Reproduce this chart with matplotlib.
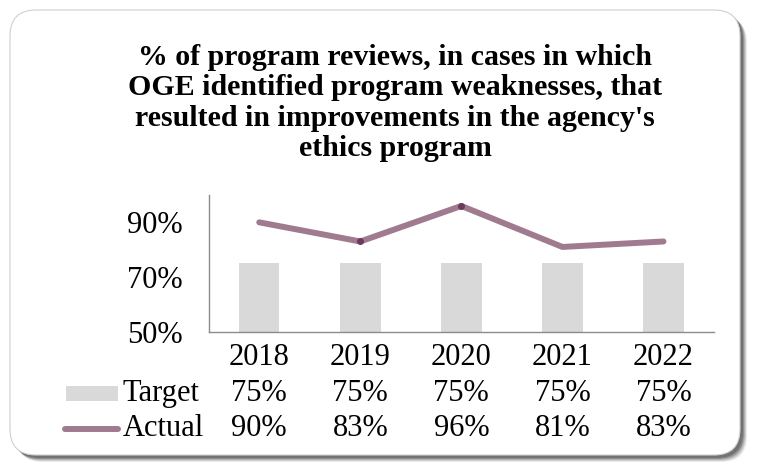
import numpy as np
import matplotlib
matplotlib.use("Agg")
import matplotlib.pyplot as plt
from matplotlib.patches import FancyBboxPatch, Rectangle
from matplotlib.lines import Line2D

years = ["2018", "2019", "2020", "2021", "2022"]
target = [75, 75, 75, 75, 75]
actual = [90, 83, 96, 81, 83]
title = ("% of program reviews, in cases in which\n"
         "OGE identified program weaknesses, that\n"
         "resulted in improvements in the agency's\n"
         "ethics program")

plt.rcParams["font.family"] = ["Liberation Serif", "DejaVu Serif"]

bar_col = "#d9d9d9"
line_col = "#a07b8f"
dot_col = "#6e3a5c"
fs = 22

W, H = 757, 470
fig = plt.figure(figsize=(W / 100, H / 100), dpi=100)

# background frame in pixel units
bg = fig.add_axes([0, 0, 1, 1])
bg.set_xlim(0, W)
bg.set_ylim(H, 0)
bg.axis("off")
for k, a in zip(range(5, 0, -1), [0.12, 0.18, 0.25, 0.35, 0.5]):
    bg.add_patch(FancyBboxPatch((12 + k, 12 + k), 730, 445,
                                boxstyle="round,pad=0,rounding_size=26",
                                fc="#555555", ec="none", alpha=a))
bg.add_patch(FancyBboxPatch((10, 10), 730, 445,
                            boxstyle="round,pad=0,rounding_size=26",
                            fc="white", ec="#d0d0d0", lw=0.8))

bg.text(395, 103, title, ha="center", va="center", fontsize=21.5,
        fontweight="bold", linespacing=1.15)

ax = fig.add_axes([208.7 / W, 1 - 331.7 / H, 505.3 / W, 136.7 / H])
ax.patch.set_alpha(0)
x = np.arange(len(years))
ax.bar(x, target, width=0.4, color=bar_col, zorder=1)
ax.plot(x, actual, color=line_col, lw=4.3, solid_capstyle="round",
        solid_joinstyle="round", zorder=2)
ax.plot(x[1:3], np.array(actual)[1:3], ls="none", marker="o", ms=4,
        color=dot_col, zorder=3)
ax.set_xlim(-0.5, len(years) - 0.5)
ax.set_ylim(50, 100)
ax.set_yticks([50, 70, 90])
ax.set_yticklabels(["50%", "70%", "90%"], fontsize=fs)
ax.tick_params(axis="y", length=0, pad=19)
ax.set_xticks(x)
ax.set_xticklabels(years, fontsize=fs)
ax.tick_params(axis="x", length=0, pad=8)
for s in ["top", "right"]:
    ax.spines[s].set_visible(False)
for s in ["left", "bottom"]:
    ax.spines[s].set_color("#8c8c8c")
    ax.spines[s].set_linewidth(1.0)

# data table rows
rows = [("Target", target, -62), ("Actual", actual, -97)]
for name, vals, off in rows:
    for i, v in enumerate(vals):
        ax.annotate(f"{v}%", xy=(i, 0), xycoords=("data", "axes fraction"),
                    xytext=(0, off), textcoords="offset pixels",
                    ha="center", va="center", fontsize=fs, annotation_clip=False)
    ax.annotate(name, xy=(-0.5, 0), xycoords=("data", "axes fraction"),
                xytext=(-86, off), textcoords="offset pixels",
                ha="left", va="center", fontsize=fs, annotation_clip=False)

# legend keys in the table
bg.add_patch(Rectangle((66, 386), 52, 15, fc=bar_col, ec="none"))
bg.add_line(Line2D([65, 118], [429, 429], color=line_col, lw=4.3,
                   solid_capstyle="round"))

fig.savefig("out.png", dpi=100)
